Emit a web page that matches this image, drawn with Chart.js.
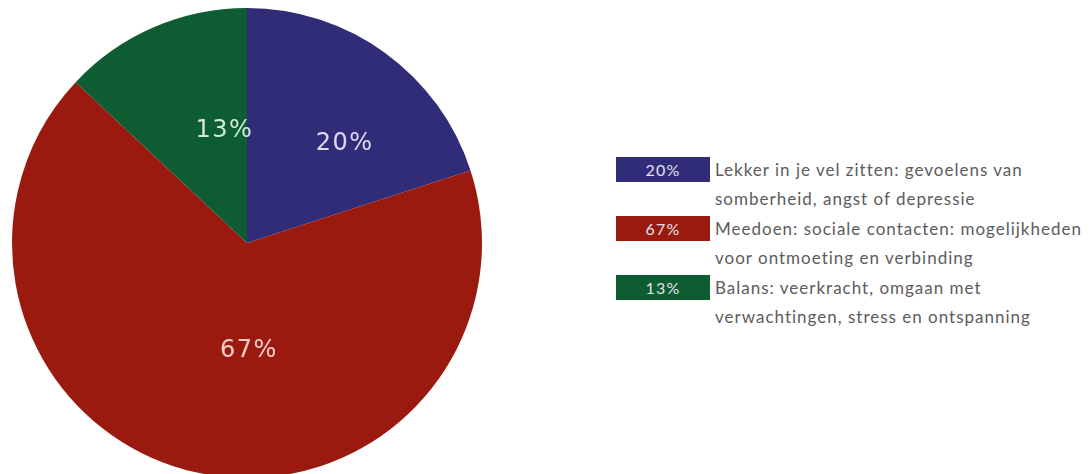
<!DOCTYPE html>
<html>
<head>
<meta charset="utf-8">
<script src="https://cdn.jsdelivr.net/npm/chart.js@4"></script>
<style>
  html, body { margin: 0; padding: 0; background: #fff; overflow: hidden; }
  body { width: 1091px; height: 474px; position: relative; }
  #pie-wrap { position: absolute; left: 12px; top: 8px; width: 470px; height: 470px; }
  #legend { position: absolute; left: 616px; top: 157px; font-family: Lato, sans-serif; }
  .item { display: flex; align-items: flex-start; height: 59px; }
  .box { width: 94px; height: 25px; color: #e4e2ee; font-size: 16px; letter-spacing: 1.2px; line-height: 25px; text-align: center; flex: none; }
  .txt { margin-left: 5px; color: #5c5c5c; font-size: 17px; letter-spacing: 1px; line-height: 29px; margin-top: -2px; white-space: nowrap; }
</style>
</head>
<body>
<div id="pie-wrap"><canvas id="pie"></canvas></div>
<div id="legend"></div>
<script>
const values = [20, 67, 13];
const labels = [
  ['Lekker in je vel zitten: gevoelens van', 'somberheid, angst of depressie'],
  ['Meedoen: sociale contacten: mogelijkheden', 'voor ontmoeting en verbinding'],
  ['Balans: veerkracht, omgaan met', 'verwachtingen, stress en ontspanning']
];
const colors = ['#302c78', '#9a1a10', '#0e5c32'];
const textColors = ['#dcdaf2', '#f4cfc8', '#cfead8'];

// percentage text on each slice, starting at the slice's mid point
const sliceLabels = {
  id: 'sliceLabels',
  afterDatasetsDraw(chart) {
    const c = chart.ctx;
    const meta = chart.getDatasetMeta(0);
    c.save();
    c.font = '24px "DejaVu Sans", Verdana, sans-serif';
    c.letterSpacing = '1.5px';
    c.textAlign = 'left';
    c.textBaseline = 'middle';
    meta.data.forEach((arc, i) => {
      const mid = (arc.startAngle + arc.endAngle) / 2;
      const r = arc.outerRadius * (i === 1 ? 0.47 : 0.52);
      c.fillStyle = textColors[i];
      c.fillText(values[i] + '%', arc.x + Math.cos(mid) * r - 3, arc.y + Math.sin(mid) * r);
    });
    c.restore();
  }
};

new Chart(document.getElementById('pie'), {
  type: 'pie',
  data: {
    labels: labels.map(l => l.join(' ')),
    datasets: [{ data: values, backgroundColor: colors, borderWidth: 0 }]
  },
  options: {
    responsive: true,
    maintainAspectRatio: false,
    animation: false,
    layout: { padding: 0 },
    plugins: { legend: { display: false }, tooltip: { enabled: false } }
  },
  plugins: [sliceLabels]
});

const legend = document.getElementById('legend');
values.forEach((v, i) => {
  const item = document.createElement('div');
  item.className = 'item';
  const box = document.createElement('div');
  box.className = 'box';
  box.style.background = colors[i];
  box.textContent = v + '%';
  const txt = document.createElement('div');
  txt.className = 'txt';
  txt.innerHTML = labels[i].join('<br>');
  item.appendChild(box);
  item.appendChild(txt);
  legend.appendChild(item);
});
</script>
</body>
</html>
